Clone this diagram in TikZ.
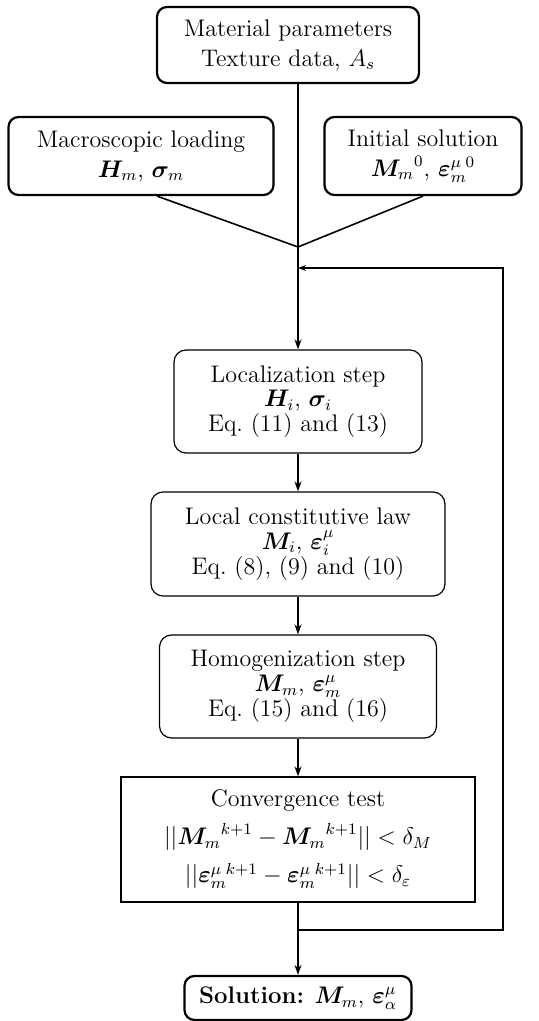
\documentclass[tikz,border=0pt,12pt]{standalone}
\usepackage{amsmath}
\usepackage{bm}
\usepackage{tikz}
\usetikzlibrary{arrows.meta}
\tikzset{
	boldbox/.style={draw, line width=1.1pt, rounded corners=5pt, align=center, inner sep=0pt, font=\fontsize{12}{15}\selectfont},
	stepbox/.style={draw, line width=0.6pt, rounded corners=6pt, align=center, inner sep=0pt, font=\fontsize{12}{12.4}\selectfont},
	testbox/.style={draw, line width=0.6pt, align=center, inner sep=0pt, font=\fontsize{12}{19}\selectfont},
	link/.style={line width=0.8pt},
	flow/.style={line width=0.8pt, -{Stealth[length=5pt, width=3.5pt]}}
}

\begin{document}
\begin{tikzpicture}[x=0.5pt, y=-0.5pt]
				\useasboundingbox (0, 0) rectangle (538, 1021);
				
				\node[boldbox, minimum width=131pt, minimum height=38pt] (mat) at (288, 45) {Material parameters\\ Texture data, $A_s$};
				\node[boldbox, minimum width=132.5pt, minimum height=39pt] (load) at (141, 156) {Macroscopic loading\\ $\bm{H}_m$, $\bm{\sigma}_m$};
				\node[boldbox, minimum width=98.5pt, minimum height=39pt] (init) at (423, 156) {Initial solution\\ ${\bm{M}_m}^0$, $\bm{\varepsilon}_m^{\mu\;0}$};
				\coordinate (junc) at (298, 247);
				
				\node[stepbox, minimum width=124pt, minimum height=51.5pt] (loc) at (298, 401.5) {Localization step\\ $\bm{H}_i$, $\bm{\sigma}_i$\\ Eq.~(11) and (13)};
				\node[stepbox, minimum width=147pt, minimum height=52pt] (law) at (298, 544) {Local constitutive law\\ $\bm{M}_i$, $\bm{\varepsilon}_i^{\mu}$\\ Eq.~(8), (9) and (10)};
				\node[stepbox, minimum width=138.5pt, minimum height=51.5pt] (hom) at (298, 686.5) {Homogenization step\\ $\bm{M}_m$, $\bm{\varepsilon}_m^{\mu}$\\ Eq.~(15) and (16)};
				\node[testbox, minimum width=177pt, minimum height=62.5pt] (conv) at (298, 839.5) {Convergence test\\ $||{\bm{M}_m}^{k+1}-{\bm{M}_m}^{k+1}||<\delta_M$\\ $||\bm{\varepsilon}_m^{\mu\;k+1}-\bm{\varepsilon}_m^{\mu\;k+1}||<\delta_\varepsilon$};
				\node[boldbox, minimum width=113.5pt, minimum height=22pt] (sol) at (298, 998) {\textbf{Solution:} $\bm{M}_m$, $\bm{\varepsilon}_\alpha^{\mu}$};
				
				\coordinate (lptop) at (503, 268);
				\coordinate (lpbot) at (503, 930);
				
				\draw[link] (junc |- mat.south) -- (junc);
				\draw[link] ([xshift=8pt]load.south) -- (junc) -- (init.south);
				\draw[flow] (junc) -- (loc.north);
				\draw[flow] (loc.south) -- (law.north);
				\draw[flow] (law.south) -- (hom.north);
				\draw[flow] (hom.south) -- (conv.north);
				\draw[flow] (conv.south) -- (sol.north);
				\draw[line width=0.8pt, -{Stealth[length=4pt, width=3pt]}] (conv.south |- lpbot) -- (lpbot) -- (lptop) -- (lptop -| junc);
			\end{tikzpicture}
\end{document}
